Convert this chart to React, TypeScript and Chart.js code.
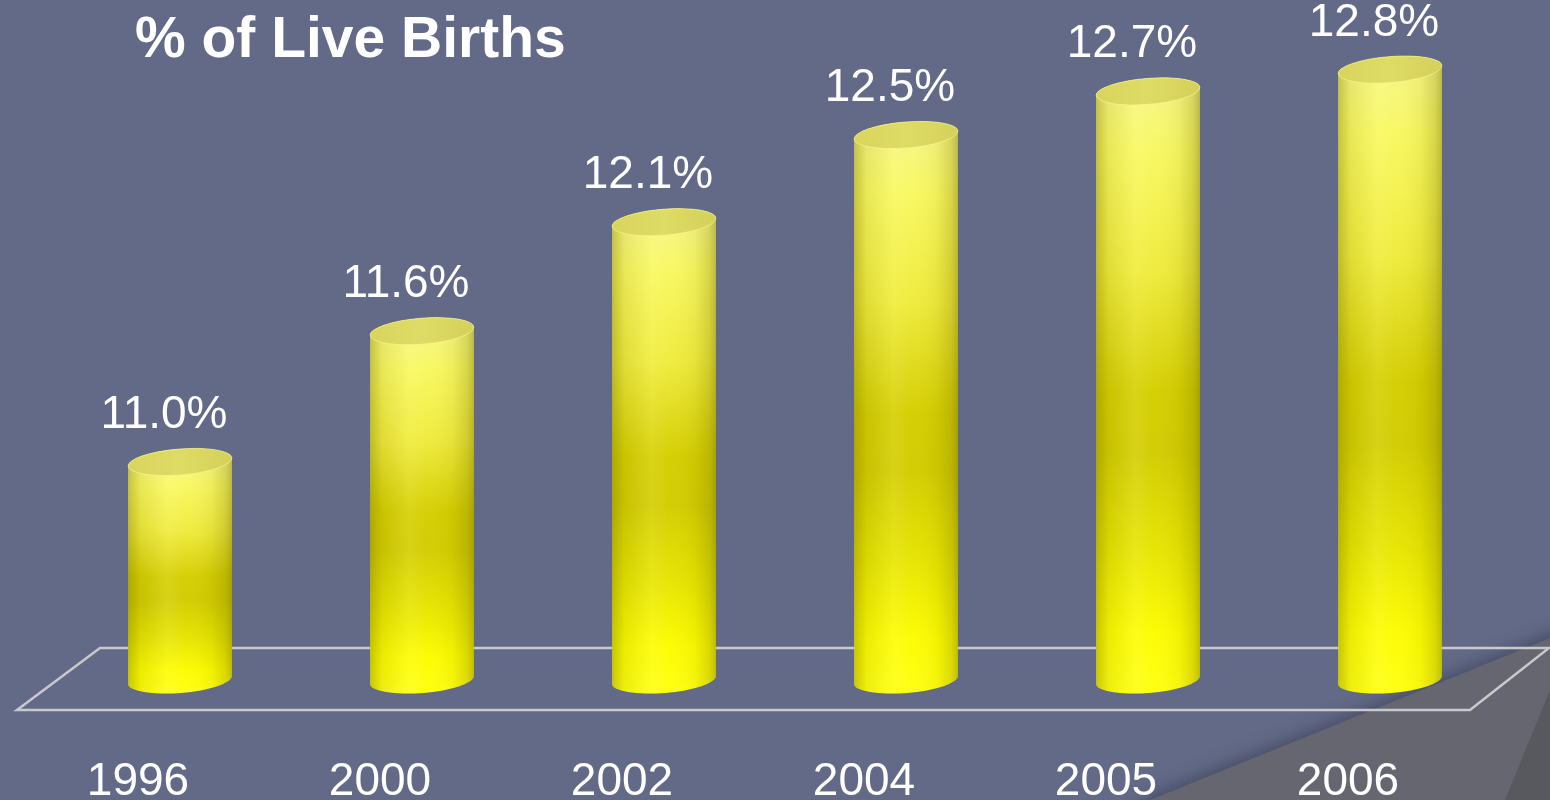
import React, { useEffect, useRef } from "react";
import { Chart, registerables } from "chart.js";

Chart.register(...registerables);

const TITLE = "% of Live Births";
const YEARS = ["1996", "2000", "2002", "2004", "2005", "2006"];
const PERCENTS = [11.0, 11.6, 12.1, 12.5, 12.7, 12.8];
const Y_MIN = 10;
const Y_MAX = 13;

const BG = "#636a87";
const FONT = "'Liberation Sans', Arial, Helvetica, sans-serif";

const ELL_RY = 13;
const ELL_ROT = -0.08;

const backgroundPlugin = {
  id: "bgDecor",
  beforeDraw(chart: any) {
    const ctx = chart.ctx as CanvasRenderingContext2D;
    const W = chart.width;
    const H = chart.height;
    ctx.save();
    ctx.fillStyle = BG;
    ctx.fillRect(0, 0, W, H);
    // grey wedge in the lower right corner
    ctx.shadowColor = "rgba(50,52,75,0.55)";
    ctx.shadowBlur = 16;
    ctx.shadowOffsetX = -3;
    ctx.shadowOffsetY = -3;
    ctx.fillStyle = "#65666f";
    ctx.beginPath();
    ctx.moveTo(1150, H);
    ctx.lineTo(W, 638);
    ctx.lineTo(W + 20, 630);
    ctx.lineTo(W + 20, H + 20);
    ctx.lineTo(1140, H + 20);
    ctx.closePath();
    ctx.fill();
    ctx.shadowColor = "rgba(0,0,0,0)";
    ctx.shadowBlur = 0;
    ctx.fillStyle = "#58595f";
    ctx.beginPath();
    ctx.moveTo(1505, H);
    ctx.lineTo(W, 690);
    ctx.lineTo(W, H);
    ctx.closePath();
    ctx.fill();
    // title
    ctx.fillStyle = "#ffffff";
    ctx.font = `bold 57px ${FONT}`;
    ctx.textAlign = "left";
    ctx.textBaseline = "alphabetic";
    ctx.fillText(TITLE, 135, 57);
    ctx.restore();
  },
  beforeDatasetsDraw(chart: any) {
    const ctx = chart.ctx as CanvasRenderingContext2D;
    const a = chart.chartArea;
    ctx.save();
    ctx.strokeStyle = "#c9c9cc";
    ctx.lineWidth = 2.5;
    ctx.lineJoin = "miter";
    ctx.beginPath();
    ctx.moveTo(a.left + 41, a.bottom - 32);
    ctx.lineTo(a.right + 38, a.bottom - 32);
    ctx.lineTo(a.right - 41, a.bottom + 30);
    ctx.lineTo(a.left - 42, a.bottom + 30);
    ctx.closePath();
    ctx.stroke();
    ctx.restore();
  },
};

function ellPt(cx: number, cy: number, rx: number, ry: number, r: number, t: number) {
  return [
    cx + rx * Math.cos(t) * Math.cos(r) - ry * Math.sin(t) * Math.sin(r),
    cy + rx * Math.cos(t) * Math.sin(r) + ry * Math.sin(t) * Math.cos(r),
  ];
}

const cylinderPlugin = {
  id: "cylinders",
  afterDatasetsDraw(chart: any) {
    const ctx = chart.ctx as CanvasRenderingContext2D;
    const meta = chart.getDatasetMeta(0);
    ctx.save();
    meta.data.forEach((el: any, i: number) => {
      const p = el.getProps(["x", "y", "base", "width"], true);
      const cx = p.x;
      const top = p.y;
      const base = p.base;
      const rx = p.width / 2;
      const ry = ELL_RY;
      const r = ELL_ROT;

      // body silhouette
      const pl = ellPt(cx, top, rx, ry, r, Math.PI);
      ctx.beginPath();
      ctx.ellipse(cx, base, rx, ry, r, 0, Math.PI, false);
      ctx.lineTo(pl[0], pl[1]);
      ctx.ellipse(cx, top, rx, ry, r, Math.PI, Math.PI * 2, false);
      ctx.closePath();

      const vg = ctx.createLinearGradient(0, top, 0, base + ry);
      vg.addColorStop(0, "#f6f682");
      vg.addColorStop(0.1, "#f8f862");
      vg.addColorStop(0.3, "#efeb3c");
      vg.addColorStop(0.5, "#d4ce00");
      vg.addColorStop(0.6, "#d2cc00");
      vg.addColorStop(0.76, "#e6e400");
      vg.addColorStop(0.9, "#fcfc00");
      vg.addColorStop(1, "#ffff10");
      ctx.fillStyle = vg;
      ctx.fill();

      const hg = ctx.createLinearGradient(cx - rx, 0, cx + rx, 0);
      hg.addColorStop(0, "rgba(120,115,0,0.4)");
      hg.addColorStop(0.12, "rgba(120,115,0,0.12)");
      hg.addColorStop(0.38, "rgba(255,255,190,0.12)");
      hg.addColorStop(0.55, "rgba(255,255,255,0.02)");
      hg.addColorStop(0.8, "rgba(120,115,0,0.08)");
      hg.addColorStop(0.93, "rgba(120,115,0,0.25)");
      hg.addColorStop(1, "rgba(100,95,0,0.4)");
      ctx.fillStyle = hg;
      ctx.fill();

      // top cap
      ctx.beginPath();
      ctx.ellipse(cx, top, rx, ry, r, 0, Math.PI * 2);
      const cg = ctx.createLinearGradient(cx - rx, top, cx + rx, top);
      cg.addColorStop(0, "#d8d45c");
      cg.addColorStop(0.5, "#dfdc66");
      cg.addColorStop(1, "#d4d05a");
      ctx.fillStyle = cg;
      ctx.fill();
      ctx.strokeStyle = "rgba(250,250,150,0.6)";
      ctx.lineWidth = 1;
      ctx.stroke();

      // value label
      ctx.fillStyle = "#ffffff";
      ctx.font = `46px ${FONT}`;
      ctx.textAlign = "center";
      ctx.textBaseline = "alphabetic";
      ctx.fillText(PERCENTS[i].toFixed(1) + "%", cx - 16, top - 34);

      // category label
      ctx.fillText(YEARS[i], cx - 42, 795);
    });
    ctx.restore();
  },
};

export default function App() {
  const ref = useRef<HTMLCanvasElement | null>(null);
  useEffect(() => {
    if (!ref.current) return;
    const chart = new Chart(ref.current, {
      type: "bar",
      data: {
        labels: YEARS,
        datasets: [
          {
            label: TITLE,
            data: PERCENTS,
            base: Y_MIN,
            backgroundColor: "rgba(0,0,0,0)",
            borderWidth: 0,
            barPercentage: 0.43,
            categoryPercentage: 1,
          },
        ],
      },
      options: {
        responsive: false,
        animation: false,
        devicePixelRatio: 1,
        layout: { padding: { left: 59, right: 39, top: 26, bottom: 120 } },
        plugins: {
          legend: { display: false },
          title: { display: false },
          tooltip: { enabled: false },
        },
        scales: {
          x: { display: false },
          y: { display: false, min: Y_MIN, max: Y_MAX },
        },
      },
      plugins: [backgroundPlugin, cylinderPlugin],
    });
    return () => chart.destroy();
  }, []);
  return (
    <div style={{ position: "absolute", left: 0, top: 0, width: 1550, height: 800, background: BG }}>
      <canvas ref={ref} width={1550} height={800} style={{ display: "block" }} />
    </div>
  );
}
